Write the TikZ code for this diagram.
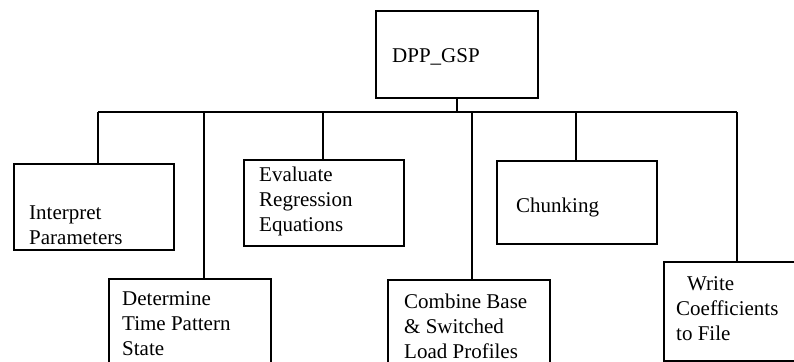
\documentclass[tikz,border=0pt]{standalone}
\usepackage{fontspec}
\setmainfont{Liberation Serif}
\begin{document}
\begin{tikzpicture}[x=1pt,y=-1pt,
  box/.style={draw, line width=1.7pt, inner sep=0pt, anchor=north west},
  lbl/.style={anchor=base west, inner sep=0pt, align=left,
    font=\fontsize{21}{25}\selectfont},
  conn/.style={line width=1.7pt}]
\useasboundingbox (0,0) rectangle (794,361);
\clip (0,0) rectangle (794,361);
% boxes
\node[box, minimum width=162pt, minimum height=87pt] (root) at (375,10) {};
\node[box, minimum width=160pt, minimum height=86pt] (interp) at (13,163) {};
\node[box, minimum width=160pt, minimum height=86pt] (eval) at (243,159) {};
\node[box, minimum width=162pt, minimum height=100pt] (determ) at (108,278) {};
\node[box, minimum width=160pt, minimum height=83pt] (chunk) at (496,160) {};
\node[box, minimum width=162pt, minimum height=100pt] (combine) at (387,279) {};
\node[box, minimum width=160pt, minimum height=99pt] (write) at (663,261) {};
% texts (base anchor = baseline of the last line)
\node[lbl] (troot) at (392,63) {DPP\_GSP};
\node[lbl] (tinterp) at (29,244) {Interpret\\Parameters};
\node[lbl] (teval) at (259,231) {Evaluate\\Regression\\Equations};
\node[lbl] (tdeterm) at (122,355) {Determine\\Time Pattern\\State};
\node[lbl] (tchunk) at (516,212) {Chunking};
\node[lbl] (tcombine) at (404,358) {Combine Base\\\& Switched\\Load Profiles};
\node[lbl] (twrite) at (676,340) {\hspace*{11pt}Write\\Coefficients\\to File};
% bus
\coordinate (bl) at (98,112);
\coordinate (br) at (737,112);
\coordinate (b2) at (204,112);
\coordinate (b3) at (323,112);
\coordinate (b4) at (472,112);
\coordinate (b5) at (576,112);
\draw[conn] (root.south) -- (root.south |- bl);
\draw[conn] (bl) -- (br);
\draw[conn] (bl) -- (bl |- interp.north);
\draw[conn] (b2) -- (b2 |- determ.north);
\draw[conn] (b3) -- (b3 |- eval.north);
\draw[conn] (b4) -- (b4 |- combine.north);
\draw[conn] (b5) -- (b5 |- chunk.north);
\draw[conn] (br) -- (br |- write.north);
\end{tikzpicture}
\end{document}
